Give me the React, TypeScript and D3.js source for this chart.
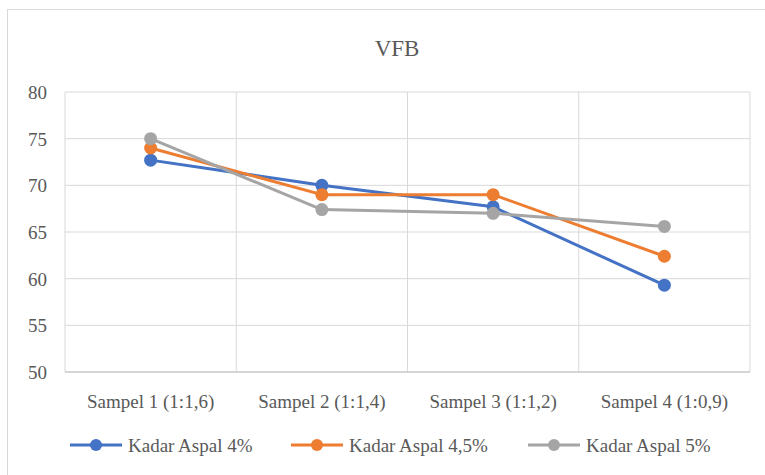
import React from 'react';
import * as d3 from 'd3';

const categories = ['Sampel 1 (1:1,6)', 'Sampel 2 (1:1,4)', 'Sampel 3 (1:1,2)', 'Sampel 4 (1:0,9)'];
const seriesNames = ['Kadar Aspal 4%', 'Kadar Aspal 4,5%', 'Kadar Aspal 5%'];
const aspal4 = [72.7, 70.0, 67.7, 59.3];
const aspal45 = [74.0, 69.0, 69.0, 62.4];
const aspal5 = [75.0, 67.4, 67.0, 65.6];
const yTicks = [50, 55, 60, 65, 70, 75, 80];
const colors = ['#4472c4', '#ed7d31', '#a5a5a5'];

const W = 765;
const H = 475;
const margin = { left: 65, right: 15, top: 92, bottom: 103 };
const FONT = "'Liberation Serif', 'Times New Roman', serif";

export default function App() {
  const x = d3.scaleBand().domain(categories).range([margin.left, W - margin.right]);
  const y = d3.scaleLinear().domain([50, 80]).range([H - margin.bottom, margin.top]);
  const line = d3.line<number>()
    .x((_, i) => (x(categories[i]) as number) + x.bandwidth() / 2)
    .y((d) => y(d));
  const series = [aspal4, aspal45, aspal5];
  const legendX = [70, 291, 528];

  return (
    <svg width={W} height={H} fontFamily={FONT} style={{ position: 'absolute', left: 0, top: 0 }}>
      <rect x={0} y={0} width={W} height={H} fill="#fff" />
      <rect x={7.5} y={9.5} width={W} height={H} fill="none" stroke="#d9d9d9" />
      <text x={397} y={56} textAnchor="middle" fontSize={23} fill="#595959">VFB</text>

      {/* gridlines */}
      {yTicks.map((t) => (
        <line key={t} x1={margin.left} x2={W - margin.right} y1={y(t)} y2={y(t)} stroke="#d9d9d9" strokeWidth={1} />
      ))}
      {categories.map((c) => (
        <line key={c} x1={x(c)} x2={x(c)} y1={margin.top} y2={H - margin.bottom} stroke="#d9d9d9" strokeWidth={1} />
      ))}
      <line x1={W - margin.right} x2={W - margin.right} y1={margin.top} y2={H - margin.bottom} stroke="#d9d9d9" />
      <line x1={margin.left} x2={W - margin.right} y1={y(50)} y2={y(50)} stroke="#bfbfbf" />

      {yTicks.map((t) => (
        <text key={t} x={47} y={y(t) + 7} textAnchor="end" fontSize={19} fill="#595959">{t}</text>
      ))}
      {categories.map((c) => (
        <text key={c} x={(x(c) as number) + x.bandwidth() / 2} y={408} textAnchor="middle" fontSize={19} fill="#595959">{c}</text>
      ))}

      {series.map((s, si) => (
        <g key={si}>
          <path d={line(s) || ''} fill="none" stroke={colors[si]} strokeWidth={3} strokeLinejoin="round" />
          {s.map((v, i) => (
            <circle key={i} cx={(x(categories[i]) as number) + x.bandwidth() / 2} cy={y(v)} r={6.5} fill={colors[si]} />
          ))}
        </g>
      ))}

      {seriesNames.map((n, i) => (
        <g key={n} transform={`translate(${legendX[i]},445)`}>
          <line x1={0} x2={52} y1={0} y2={0} stroke={colors[i]} strokeWidth={3} />
          <circle cx={26} cy={0} r={6} fill={colors[i]} />
          <text x={58} y={7} fontSize={19} fill="#595959">{n}</text>
        </g>
      ))}
    </svg>
  );
}
